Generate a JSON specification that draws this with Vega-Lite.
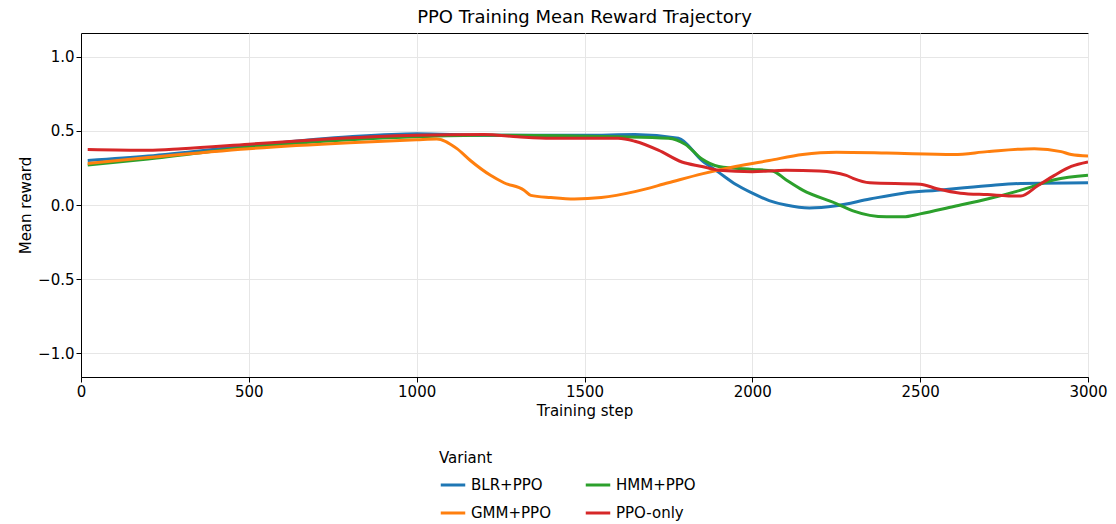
{
"$schema":"https://vega.github.io/schema/vega-lite/v6.json",
"width":1007,"height":344,
"autosize":{"type":"none"},
"padding":{"left":81,"top":33,"right":28,"bottom":147},
"background":"white",
"title":{"text":"PPO Training Mean Reward Trajectory","font":"DejaVu Sans","fontSize":18,"fontWeight":"normal","offset":6},
"config":{"font":"DejaVu Sans","view":{"stroke":"black","strokeWidth":1}},
"data":{"values":[
{"s":"BLR+PPO","x":20,"y":0.30},{"s":"BLR+PPO","x":200,"y":0.33},{"s":"BLR+PPO","x":500,"y":0.40},{"s":"BLR+PPO","x":800,"y":0.46},{"s":"BLR+PPO","x":1000,"y":0.48},{"s":"BLR+PPO","x":1200,"y":0.47},{"s":"BLR+PPO","x":1500,"y":0.47},{"s":"BLR+PPO","x":1650,"y":0.475},{"s":"BLR+PPO","x":1780,"y":0.45},{"s":"BLR+PPO","x":1850,"y":0.30},{"s":"BLR+PPO","x":1900,"y":0.22},{"s":"BLR+PPO","x":1950,"y":0.14},{"s":"BLR+PPO","x":2000,"y":0.08},{"s":"BLR+PPO","x":2050,"y":0.03},{"s":"BLR+PPO","x":2100,"y":0.0},{"s":"BLR+PPO","x":2170,"y":-0.02},{"s":"BLR+PPO","x":2250,"y":-0.005},{"s":"BLR+PPO","x":2350,"y":0.04},{"s":"BLR+PPO","x":2450,"y":0.08},{"s":"BLR+PPO","x":2550,"y":0.10},{"s":"BLR+PPO","x":2700,"y":0.13},{"s":"BLR+PPO","x":2800,"y":0.145},{"s":"BLR+PPO","x":3000,"y":0.15},
{"s":"HMM+PPO","x":20,"y":0.27},{"s":"HMM+PPO","x":200,"y":0.31},{"s":"HMM+PPO","x":500,"y":0.39},{"s":"HMM+PPO","x":800,"y":0.44},{"s":"HMM+PPO","x":1000,"y":0.46},{"s":"HMM+PPO","x":1200,"y":0.47},{"s":"HMM+PPO","x":1600,"y":0.46},{"s":"HMM+PPO","x":1750,"y":0.45},{"s":"HMM+PPO","x":1800,"y":0.41},{"s":"HMM+PPO","x":1850,"y":0.31},{"s":"HMM+PPO","x":1900,"y":0.26},{"s":"HMM+PPO","x":2000,"y":0.24},{"s":"HMM+PPO","x":2060,"y":0.23},{"s":"HMM+PPO","x":2100,"y":0.17},{"s":"HMM+PPO","x":2150,"y":0.10},{"s":"HMM+PPO","x":2250,"y":0.01},{"s":"HMM+PPO","x":2300,"y":-0.04},{"s":"HMM+PPO","x":2350,"y":-0.07},{"s":"HMM+PPO","x":2400,"y":-0.08},{"s":"HMM+PPO","x":2450,"y":-0.08},{"s":"HMM+PPO","x":2500,"y":-0.06},{"s":"HMM+PPO","x":2600,"y":-0.01},{"s":"HMM+PPO","x":2700,"y":0.04},{"s":"HMM+PPO","x":2800,"y":0.10},{"s":"HMM+PPO","x":2900,"y":0.17},{"s":"HMM+PPO","x":3000,"y":0.20},
{"s":"GMM+PPO","x":20,"y":0.28},{"s":"GMM+PPO","x":200,"y":0.32},{"s":"GMM+PPO","x":500,"y":0.38},{"s":"GMM+PPO","x":800,"y":0.42},{"s":"GMM+PPO","x":1000,"y":0.44},{"s":"GMM+PPO","x":1060,"y":0.445},{"s":"GMM+PPO","x":1120,"y":0.38},{"s":"GMM+PPO","x":1160,"y":0.30},{"s":"GMM+PPO","x":1220,"y":0.20},{"s":"GMM+PPO","x":1260,"y":0.15},{"s":"GMM+PPO","x":1320,"y":0.10},{"s":"GMM+PPO","x":1340,"y":0.065},{"s":"GMM+PPO","x":1400,"y":0.05},{"s":"GMM+PPO","x":1470,"y":0.04},{"s":"GMM+PPO","x":1550,"y":0.05},{"s":"GMM+PPO","x":1650,"y":0.09},{"s":"GMM+PPO","x":1750,"y":0.15},{"s":"GMM+PPO","x":1850,"y":0.21},{"s":"GMM+PPO","x":1950,"y":0.26},{"s":"GMM+PPO","x":2050,"y":0.30},{"s":"GMM+PPO","x":2150,"y":0.34},{"s":"GMM+PPO","x":2250,"y":0.355},{"s":"GMM+PPO","x":2400,"y":0.35},{"s":"GMM+PPO","x":2600,"y":0.34},{"s":"GMM+PPO","x":2700,"y":0.36},{"s":"GMM+PPO","x":2840,"y":0.38},{"s":"GMM+PPO","x":2920,"y":0.36},{"s":"GMM+PPO","x":2950,"y":0.34},{"s":"GMM+PPO","x":3000,"y":0.33},
{"s":"PPO-only","x":20,"y":0.375},{"s":"PPO-only","x":200,"y":0.37},{"s":"PPO-only","x":300,"y":0.38},{"s":"PPO-only","x":500,"y":0.41},{"s":"PPO-only","x":700,"y":0.44},{"s":"PPO-only","x":1000,"y":0.47},{"s":"PPO-only","x":1200,"y":0.475},{"s":"PPO-only","x":1300,"y":0.46},{"s":"PPO-only","x":1400,"y":0.45},{"s":"PPO-only","x":1600,"y":0.45},{"s":"PPO-only","x":1650,"y":0.43},{"s":"PPO-only","x":1720,"y":0.37},{"s":"PPO-only","x":1790,"y":0.29},{"s":"PPO-only","x":1850,"y":0.26},{"s":"PPO-only","x":1900,"y":0.235},{"s":"PPO-only","x":2000,"y":0.225},{"s":"PPO-only","x":2100,"y":0.235},{"s":"PPO-only","x":2200,"y":0.23},{"s":"PPO-only","x":2280,"y":0.20},{"s":"PPO-only","x":2300,"y":0.18},{"s":"PPO-only","x":2350,"y":0.15},{"s":"PPO-only","x":2500,"y":0.14},{"s":"PPO-only","x":2550,"y":0.11},{"s":"PPO-only","x":2620,"y":0.08},{"s":"PPO-only","x":2700,"y":0.07},{"s":"PPO-only","x":2800,"y":0.06},{"s":"PPO-only","x":2850,"y":0.13},{"s":"PPO-only","x":2900,"y":0.20},{"s":"PPO-only","x":2950,"y":0.26},{"s":"PPO-only","x":3000,"y":0.29}
]},
"mark":{"type":"line","strokeWidth":3,"interpolate":"monotone","clip":true},
"encoding":{
"x":{"field":"x","type":"quantitative","scale":{"domain":[0,3000],"nice":false},"axis":{"title":"Training step","format":"d","values":[0,500,1000,1500,2000,2500,3000],"labelFontSize":15,"titleFontSize":15,"titleFontWeight":"normal","labelColor":"black","titleColor":"black","domainColor":"black","tickColor":"black","gridColor":"#e6e6e6","labelFlush":false}},
"y":{"field":"y","type":"quantitative","scale":{"domain":[-1.16,1.16],"nice":false},"axis":{"title":"Mean reward","values":[-1,-0.5,0,0.5,1],"format":".1f","labelFontSize":15,"titleFontSize":15,"titleFontWeight":"normal","labelColor":"black","titleColor":"black","domainColor":"black","tickColor":"black","gridColor":"#e6e6e6"}},
"color":{"field":"s","type":"nominal","scale":{"domain":["BLR+PPO","GMM+PPO","HMM+PPO","PPO-only"],"range":["#1f77b4","#ff7f0e","#2ca02c","#d62728"]},
"legend":{"title":"Variant","orient":"none","legendX":358,"legendY":418,"columns":2,"symbolType":"stroke","symbolStrokeWidth":3,"symbolSize":600,"labelFontSize":15,"titleFontSize":15,"titleFontWeight":"normal","labelColor":"black","titleColor":"black","columnPadding":28,"rowPadding":6}}
}
}
